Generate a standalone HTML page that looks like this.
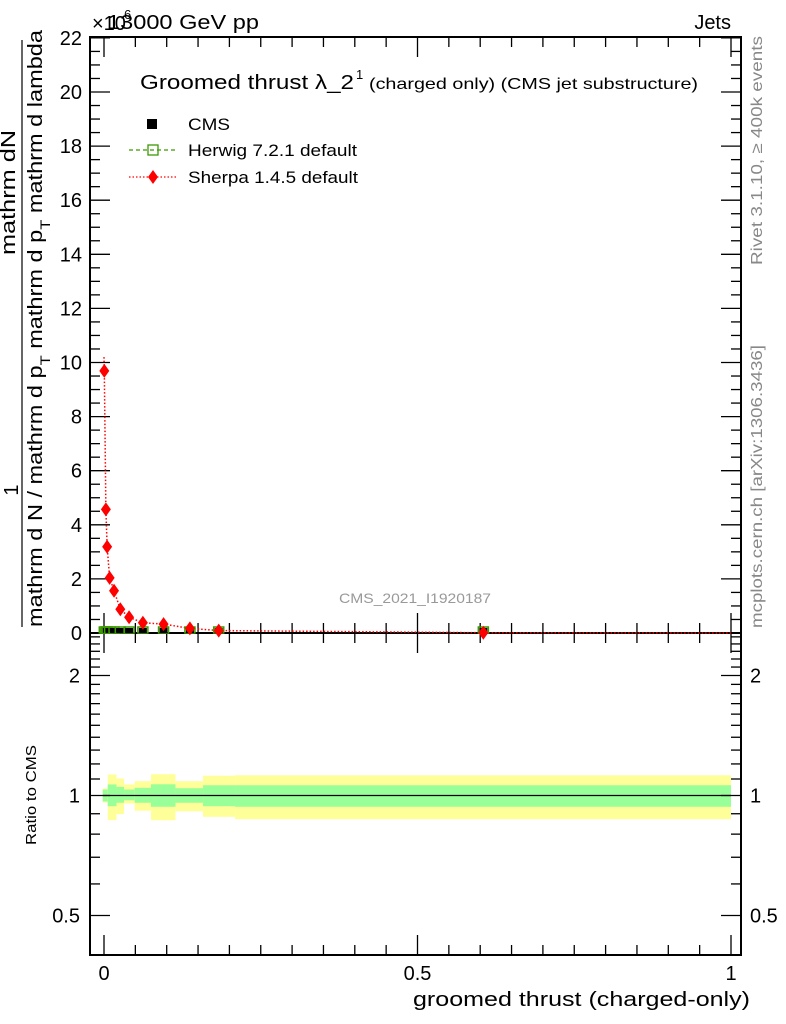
<!DOCTYPE html>
<html><head><meta charset="utf-8"><style>
body{margin:0;background:#fff;}
svg{display:block;font-family:"Liberation Sans",Arial,sans-serif;}
</style></head><body>
<svg id="c" width="786" height="1024" viewBox="0 0 786 1024">
<g id="bands"></g>
<g id="axes"></g>
<g id="marks"></g>
<text x="92" y="30" font-size="20">×10</text>
<text x="124" y="19" font-size="13">6</text>
<text x="107" y="29" font-size="20" textLength="152" lengthAdjust="spacingAndGlyphs">13000 GeV pp</text>
<text x="731" y="29" font-size="20" text-anchor="end">Jets</text>
<g>
<text x="140" y="89" font-size="20" textLength="214" lengthAdjust="spacingAndGlyphs">Groomed thrust λ_2</text>
<text x="356" y="79" font-size="13">1</text>
<text x="369" y="89" font-size="16" textLength="329" lengthAdjust="spacingAndGlyphs">(charged only) (CMS jet substructure)</text>
</g>
<g>
<rect x="147" y="119" width="10" height="10" fill="#000"/>
<text x="188" y="130" font-size="17" textLength="42" lengthAdjust="spacingAndGlyphs">CMS</text>
<line x1="129" y1="150" x2="177" y2="150" stroke="#3a9a00" stroke-width="1.3" stroke-dasharray="4,3"/>
<rect x="148" y="145" width="10" height="10" fill="none" stroke="#3a9a00" stroke-width="1.3"/>
<text x="188" y="156" font-size="17" textLength="169" lengthAdjust="spacingAndGlyphs">Herwig 7.2.1 default</text>
<line x1="129" y1="177" x2="177" y2="177" stroke="#f00" stroke-width="1.3" stroke-dasharray="1.5,2"/>
<path d="M153 170 L158 177 L153 184 L148 177Z" fill="#f00"/>
<text x="188" y="183" font-size="17" textLength="170" lengthAdjust="spacingAndGlyphs">Sherpa 1.4.5 default</text>
</g>
<text x="339" y="603" font-size="14" fill="#999" textLength="152" lengthAdjust="spacingAndGlyphs">CMS_2021_I1920187</text>
<text transform="translate(762,265) rotate(-90)" font-size="16" fill="#888" textLength="229" lengthAdjust="spacingAndGlyphs">Rivet 3.1.10, ≥ 400k events</text>
<text transform="translate(762,628) rotate(-90)" font-size="16" fill="#888" textLength="283" lengthAdjust="spacingAndGlyphs">mcplots.cern.ch [arXiv:1306.3436]</text>
<g>
<text transform="translate(18,490) rotate(-90)" font-size="20" text-anchor="middle">1</text>
<line x1="22" y1="627" x2="22" y2="40" stroke="#000" stroke-width="1.2"/>
<text transform="translate(15,255) rotate(-90)" font-size="20" textLength="125" lengthAdjust="spacingAndGlyphs">mathrm dN</text>
<text transform="translate(42,627) rotate(-90)" font-size="20" textLength="597" lengthAdjust="spacingAndGlyphs">mathrm d N / mathrm d p<tspan dy="8" font-size="14">T</tspan><tspan dy="-8"> mathrm d p</tspan><tspan dy="8" font-size="14">T</tspan><tspan dy="-8"> mathrm d lambda</tspan></text>
</g>
<text x="413" y="1006" font-size="20" textLength="337" lengthAdjust="spacingAndGlyphs">groomed thrust (charged-only)</text>
<text transform="translate(36,845) rotate(-90)" font-size="15" textLength="100" lengthAdjust="spacingAndGlyphs">Ratio to CMS</text>
</svg>
<script>
const sherpaX=[0.0005,0.003,0.005,0.009,0.016,0.026,0.040,0.062,0.095,0.137,0.183,0.605];
const sherpaY=[9.69,4.57,3.19,2.04,1.56,0.88,0.58,0.38,0.33,0.17,0.09,0.01];
const cmsX=[0.0005,0.003,0.005,0.009,0.016,0.026,0.040,0.062,0.095,0.137,0.183,0.605];
const cmsY=[0,0,0,0,0,0,0,0,0,0,0,0];
const herwigY=[0,0,0,0,0,0,0,0,0,0,0,0];
const binEdges=[-0.002,0.006,0.020,0.032,0.049,0.075,0.114,0.158,0.209,1.0];
const yellowUp=[1.041,1.129,1.103,1.066,1.086,1.131,1.086,1.121,1.124];
const yellowDn=[0.960,0.867,0.898,0.955,0.916,0.867,0.913,0.884,0.872];
const greenUp=[1.035,1.066,1.051,1.035,1.045,1.067,1.043,1.061,1.061];
const greenDn=[0.966,0.940,0.959,0.973,0.959,0.937,0.959,0.940,0.937];
const yTicks=[0,2,4,6,8,10,12,14,16,18,20,22];
const rTicks=[0.5,1,2];
const xTicks=[0,0.5,1];

const NS='http://www.w3.org/2000/svg';
const L=90,R=741,T=37,MB=633,RB=955;
const X=v=>104+v*627;
const Y=v=>633-v*27.05;
const RY=v=>795.5-120*Math.log2(v);
function mk(tag,at,parent){const e=document.createElementNS(NS,tag);for(const k in at)e.setAttribute(k,at[k]);document.getElementById(parent).appendChild(e);return e;}

for(let i=0;i<binEdges.length-1;i++){
 const x1=X(binEdges[i]),x2=Math.min(X(binEdges[i+1]),731);
 let e=mk('rect',{x:x1,y:RY(yellowUp[i]),width:x2-x1,height:RY(yellowDn[i])-RY(yellowUp[i]),fill:'#ffff99'},'bands');
 
 
 e=mk('rect',{x:x1,y:RY(greenUp[i]),width:x2-x1,height:RY(greenDn[i])-RY(greenUp[i]),fill:'#99ff99'},'bands');
 
 
}
let ref=mk('line',{x1:X(binEdges[0]),x2:731,y1:RY(1),y2:RY(1),stroke:'#000','stroke-width':1.3},'bands');



for(const [t,b,n] of [[T,MB,'main-frame'],[MB,RB,'ratio-frame']]){
 const e=mk('rect',{x:L,y:t,width:R-L,height:b-t,fill:'none',stroke:'#000','stroke-width':2},'axes');
 
 
}
for(let v=0;v<=22.01;v+=0.5){
 const maj=Math.abs(v-Math.round(v/2)*2)<1e-6,len=maj?20:10,y=Y(v);
 mk('line',{x1:L,x2:L+len,y1:y,y2:y,stroke:'#000','stroke-width':1.3},'axes');
 mk('line',{x1:R,x2:R-len,y1:y,y2:y,stroke:'#000','stroke-width':1.3},'axes');
}
yTicks.forEach(v=>{const t=mk('text',{x:82,y:Y(v)+7,'font-size':20,'text-anchor':'end'},'axes');t.textContent=v;
 
 });
for(let v=0.5;v<=2.55;v+=0.1){const y=RY(v);if(y<MB)continue;
 const maj=rTicks.some(r=>Math.abs(r-v)<1e-6),len=maj?20:10;
 mk('line',{x1:L,x2:L+len,y1:y,y2:y,stroke:'#000','stroke-width':1.3},'axes');
 mk('line',{x1:R,x2:R-len,y1:y,y2:y,stroke:'#000','stroke-width':1.3},'axes');}
rTicks.forEach(v=>{let t=mk('text',{x:80,y:RY(v)+7,'font-size':20,'text-anchor':'end'},'axes');t.textContent=v;
 
 
 t=mk('text',{x:750,y:RY(v)+7,'font-size':20},'axes');t.textContent=v;
 
 });
for(let i=0;i<=20;i++){const v=i*0.05,x=X(v),maj=(i%10===0),len=maj?20:10;
 for(const [yb,d] of [[MB,-1],[T,1],[RB,-1],[MB,1]]) mk('line',{x1:x,x2:x,y1:yb,y2:yb+d*len,stroke:'#000','stroke-width':1.3},'axes');}
xTicks.forEach(v=>{const t=mk('text',{x:X(v),y:980,'font-size':20,'text-anchor':'middle'},'axes');t.textContent=v;
 
 });

let pts=sherpaX.map((x,i)=>X(x)+','+Y(sherpaY[i]));
pts.unshift(X(0)+','+Y(10.2));pts.push(X(1)+','+Y(0));
let pl=mk('polyline',{points:pts.join(' '),fill:'none',stroke:'#f00','stroke-width':1.5,'stroke-dasharray':'1.5,2'},'marks');


cmsX.forEach((x,i)=>{
 let e=mk('rect',{x:X(x)-5,y:Y(herwigY[i])-6,width:10,height:6,fill:'none',stroke:'#3a9a00','stroke-width':1.5},'marks');
 
 
 e=mk('rect',{x:X(x)-4,y:Y(cmsY[i])-5,width:8,height:5,fill:'#000'},'marks');
 
 
});
sherpaX.forEach((x,i)=>{const cx=X(x),cy=Y(sherpaY[i]);
 const e=mk('path',{d:`M${cx} ${cy-7}L${cx+5} ${cy}L${cx} ${cy+7}L${cx-5} ${cy}Z`,fill:'#f00'},'marks');
 
 });
</script>
</body></html>
